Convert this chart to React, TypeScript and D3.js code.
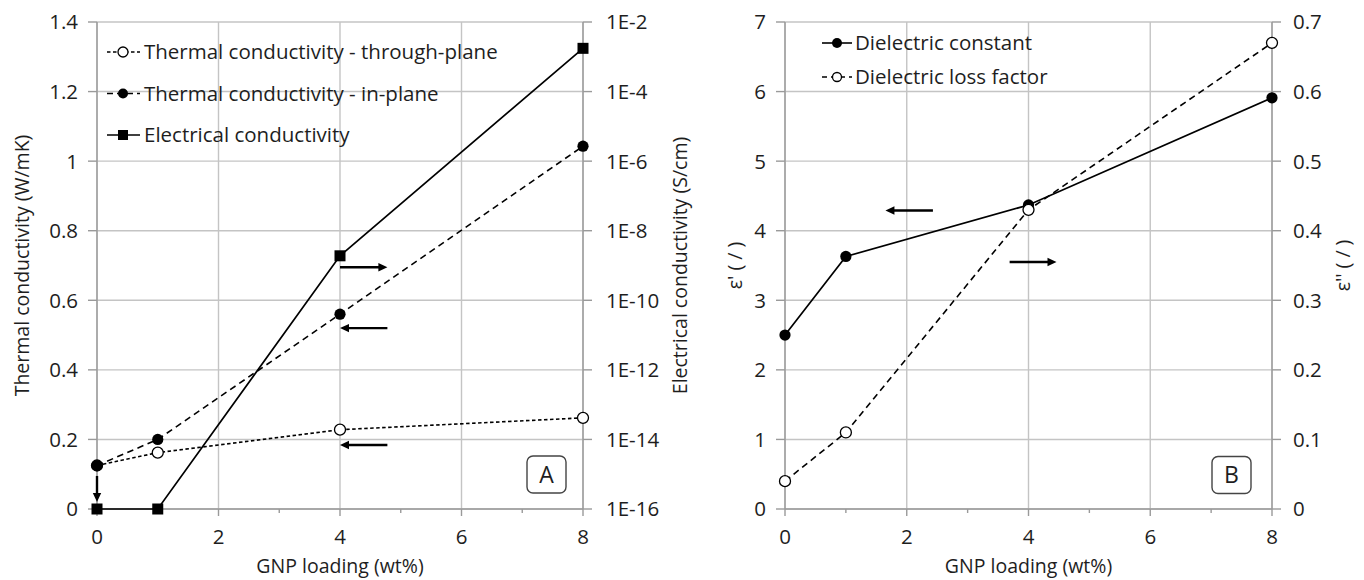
import React from "react";
import * as d3 from "d3";

// ---------- data ----------
const gnp = [0, 1, 4, 8];
const throughPlane = [0.125, 0.162, 0.228, 0.262];
const inPlane = [0.125, 0.2, 0.56, 1.043];
const electrical = [1e-16, 1e-16, 1.9e-9, 1.75e-3];
const dielConst = [2.5, 3.63, 4.37, 5.91];
const lossFactor = [0.04, 0.11, 0.43, 0.67];

const xTicks = [0, 2, 4, 6, 8];
const xMinor = [1, 3, 5, 7];
const thermalTicks = [0, 0.2, 0.4, 0.6, 0.8, 1, 1.2, 1.4];
const elecTicks = [1e-16, 1e-14, 1e-12, 1e-10, 1e-8, 1e-6, 1e-4, 1e-2];
const epsTicks = [0, 1, 2, 3, 4, 5, 6, 7];
const epsLossTicks = [0, 0.1, 0.2, 0.3, 0.4, 0.5, 0.6, 0.7];

// annotation arrows in data coords: [x1, y1, x2, y2] (head at x2,y2)
const arrowsA = [
  [4, 0.695, 4.78, 0.695],
  [4.78, 0.52, 4, 0.52],
  [4.78, 0.184, 4, 0.184],
  [0, 0.095, 0, 0.02],
];
const arrowsB = [
  [2.43, 4.29, 1.65, 4.29],
  [3.69, 3.55, 4.46, 3.55],
];

const legendA = [
  "Thermal conductivity - through-plane",
  "Thermal conductivity - in-plane",
  "Electrical conductivity",
];
const legendB = ["Dielectric constant", "Dielectric loss factor"];

const FONT = "'Open Sans', sans-serif";
const FT = 20.5; // tick & legend
const FA = 19.5; // axis titles
const GRID = "#c4c4c4";
const AXIS = "#9a9a9a";
const TXT = "#1e1e1e";

function Arrow({ x1, y1, x2, y2 }: any) {
  const ang = Math.atan2(y2 - y1, x2 - x1);
  const L = 9, W = 4.2;
  const bx = x2 - L * Math.cos(ang), by = y2 - L * Math.sin(ang);
  const px = -Math.sin(ang) * W, py = Math.cos(ang) * W;
  return (
    <g>
      <line x1={x1} y1={y1} x2={bx + 1 * Math.cos(ang)} y2={by + 1 * Math.sin(ang)} stroke="#000" strokeWidth={2.4} />
      <path d={`M${x2},${y2}L${bx + px},${by + py}L${bx - px},${by - py}Z`} fill="#000" />
    </g>
  );
}

function Frame({ x, yL, yR, left, top, right, bottom, lTicks, rTicks, lFmt, rFmt, rGap }: any) {
  return (
    <g>
      {xTicks.map((t) => (
        <line key={"gx" + t} x1={x(t)} x2={x(t)} y1={top} y2={bottom} stroke={GRID} strokeWidth={1.4} />
      ))}
      {lTicks.map((t: number) => (
        <line key={"gy" + t} x1={left} x2={right} y1={yL(t)} y2={yL(t)} stroke={GRID} strokeWidth={1.4} />
      ))}
      <line x1={left} x2={left} y1={top} y2={bottom} stroke={AXIS} strokeWidth={1.4} />
      <line x1={right} x2={right} y1={top} y2={bottom} stroke={AXIS} strokeWidth={1.4} />
      <line x1={left} x2={right} y1={bottom} y2={bottom} stroke={AXIS} strokeWidth={1.6} />
      {lTicks.map((t: number) => (
        <g key={"lt" + t}>
          <line x1={left - 9} x2={left} y1={yL(t)} y2={yL(t)} stroke={AXIS} strokeWidth={1.4} />
          <text x={left - 19} y={yL(t)} dy="0.36em" textAnchor="end" fontSize={FT} fill={TXT}>{lFmt(t)}</text>
        </g>
      ))}
      {rTicks.map((t: number) => (
        <g key={"rt" + t}>
          <line x1={right} x2={right + 9} y1={yR(t)} y2={yR(t)} stroke={AXIS} strokeWidth={1.4} />
          <text x={right + rGap} y={yR(t)} dy="0.36em" textAnchor="start" fontSize={FT} fill={TXT}>{rFmt(t)}</text>
        </g>
      ))}
      {xTicks.map((t) => (
        <g key={"xt" + t}>
          <line x1={x(t)} x2={x(t)} y1={bottom} y2={bottom + 7} stroke={AXIS} strokeWidth={1.4} />
          <text x={x(t)} y={bottom + 35} textAnchor="middle" fontSize={FT} fill={TXT}>{t}</text>
        </g>
      ))}
      {xMinor.map((t) => (
        <line key={"xm" + t} x1={x(t)} x2={x(t)} y1={bottom} y2={bottom + 4} stroke={AXIS} strokeWidth={1.4} />
      ))}
    </g>
  );
}

function LabelBox({ cx, cy, label }: any) {
  return (
    <g>
      <rect x={cx - 19.5} y={cy - 18.5} width={39} height={37} rx={6} fill="#fff" stroke="#444" strokeWidth={1.4} />
      <text x={cx} y={cy} dy="0.36em" textAnchor="middle" fontSize={23} fill={TXT}>{label}</text>
    </g>
  );
}

export default function App() {
  const top = 22, bottom = 509;
  // Panel A
  const aL = 97, aR = 583;
  const xA = d3.scaleLinear().domain([0, 8]).range([aL, aR]);
  const yTh = d3.scaleLinear().domain([0, 1.4]).range([bottom, top]);
  const yEl = d3.scaleLog().domain([1e-16, 1e-2]).range([bottom, top]);
  // Panel B
  const bL = 785, bR = 1272;
  const xB = d3.scaleLinear().domain([0, 8]).range([bL, bR]);
  const yEps = d3.scaleLinear().domain([0, 7]).range([bottom, top]);
  const yLoss = d3.scaleLinear().domain([0, 0.7]).range([bottom, top]);

  const lineGen = (xs: any, ys: any, vals: number[]) =>
    d3.line<number>().x((_, i) => xs(gnp[i])).y((v) => ys(v))(vals) as string;

  const expFmt = (t: number) => "1E" + Math.round(Math.log10(t));

  return (
    <svg width={1364} height={580} style={{ position: "absolute", left: 0, top: 0, background: "#fff" }} fontFamily={FONT}>
      <rect width={1364} height={580} fill="#fff" />
      {/* ---------- Panel A ---------- */}
      <Frame x={xA} yL={yTh} yR={yEl} left={aL} right={aR} top={top} bottom={bottom} rGap={23}
        lTicks={thermalTicks} rTicks={elecTicks} lFmt={(t: number) => d3.format("~g")(t)} rFmt={expFmt} />
      <path d={lineGen(xA, yTh, throughPlane)} fill="none" stroke="#000" strokeWidth={1.6} strokeDasharray="3.5,2.5" />
      <path d={lineGen(xA, yTh, inPlane)} fill="none" stroke="#000" strokeWidth={1.6} strokeDasharray="6.5,4.5" />
      <path d={lineGen(xA, yEl, electrical)} fill="none" stroke="#000" strokeWidth={1.7} />
      {throughPlane.map((v, i) => (
        <circle key={"tp" + i} cx={xA(gnp[i])} cy={yTh(v)} r={5.5} fill="#fff" stroke="#000" strokeWidth={1.3} />
      ))}
      {inPlane.map((v, i) => (
        <circle key={"ip" + i} cx={xA(gnp[i])} cy={yTh(v)} r={5.6} fill="#000" />
      ))}
      {electrical.map((v, i) => (
        <rect key={"el" + i} x={xA(gnp[i]) - 5.5} y={yEl(v) - 5.5} width={11} height={11} fill="#000" />
      ))}
      {arrowsA.map((a, i) => (
        <Arrow key={"aa" + i} x1={xA(a[0])} y1={yTh(a[1])} x2={xA(a[2])} y2={yTh(a[3])} />
      ))}
      {/* legend A */}
      {legendA.map((name, i) => {
        const y = 52 + i * 41.5;
        return (
          <g key={"la" + i}>
            <line x1={107} x2={140} y1={y} y2={y} stroke="#000" strokeWidth={1.6}
              strokeDasharray={i === 0 ? "3.5,2.5" : i === 1 ? "6,4" : undefined} />
            {i === 0 && <circle cx={123} cy={y} r={5} fill="#fff" stroke="#000" strokeWidth={1.3} />}
            {i === 1 && <circle cx={123} cy={y} r={5} fill="#000" />}
            {i === 2 && <rect x={118} y={y - 5} width={10} height={10} fill="#000" />}
            <text x={144} y={y} dy="0.36em" fontSize={FT} fill={TXT}>{name}</text>
          </g>
        );
      })}
      <LabelBox cx={546.5} cy={474.5} label="A" />
      <text transform={`translate(22,${(top + bottom) / 2}) rotate(-90)`} textAnchor="middle" dy="0.36em" fontSize={FA} fill={TXT}>
        Thermal conductivity (W/mK)
      </text>
      <text transform={`translate(680,${(top + bottom) / 2}) rotate(-90)`} textAnchor="middle" dy="0.36em" fontSize={FA} fill={TXT}>
        Electrical conductivity (S/cm)
      </text>
      <text x={(aL + aR) / 2} y={573} textAnchor="middle" fontSize={FA} fill={TXT}>GNP loading (wt%)</text>

      {/* ---------- Panel B ---------- */}
      <Frame x={xB} yL={yEps} yR={yLoss} left={bL} right={bR} top={top} bottom={bottom} rGap={21}
        lTicks={epsTicks} rTicks={epsLossTicks} lFmt={(t: number) => String(t)} rFmt={(t: number) => d3.format("~g")(t)} />
      <path d={lineGen(xB, yLoss, lossFactor)} fill="none" stroke="#000" strokeWidth={1.6} strokeDasharray="6.5,4.5" />
      <path d={lineGen(xB, yEps, dielConst)} fill="none" stroke="#000" strokeWidth={1.7} />
      {dielConst.map((v, i) => (
        <circle key={"dc" + i} cx={xB(gnp[i])} cy={yEps(v)} r={5.6} fill="#000" />
      ))}
      {lossFactor.map((v, i) => (
        <circle key={"lf" + i} cx={xB(gnp[i])} cy={yLoss(v)} r={5.5} fill="#fff" stroke="#000" strokeWidth={1.3} />
      ))}
      {arrowsB.map((a, i) => (
        <Arrow key={"ab" + i} x1={xB(a[0])} y1={yEps(a[1])} x2={xB(a[2])} y2={yEps(a[3])} />
      ))}
      {legendB.map((name, i) => {
        const y = 43 + i * 34;
        return (
          <g key={"lb" + i}>
            <line x1={822} x2={852} y1={y} y2={y} stroke="#000" strokeWidth={1.6}
              strokeDasharray={i === 1 ? "5,4" : undefined} />
            {i === 0 ? <circle cx={837} cy={y} r={5} fill="#000" /> : <circle cx={837} cy={y} r={4.5} fill="#fff" stroke="#000" strokeWidth={1.3} />}
            <text x={855} y={y} dy="0.36em" fontSize={FT} fill={TXT}>{name}</text>
          </g>
        );
      })}
      <LabelBox cx={1231.5} cy={475} label="B" />
      <text transform={`translate(735,${(top + bottom) / 2}) rotate(-90)`} textAnchor="middle" dy="0.36em" fontSize={FA} fill={TXT}>
        ε' ( / )
      </text>
      <text transform={`translate(1343,${(top + bottom) / 2}) rotate(-90)`} textAnchor="middle" dy="0.36em" fontSize={FA} fill={TXT}>
        ε'' ( / )
      </text>
      <text x={(bL + bR) / 2} y={573} textAnchor="middle" fontSize={FA} fill={TXT}>GNP loading (wt%)</text>
    </svg>
  );
}
